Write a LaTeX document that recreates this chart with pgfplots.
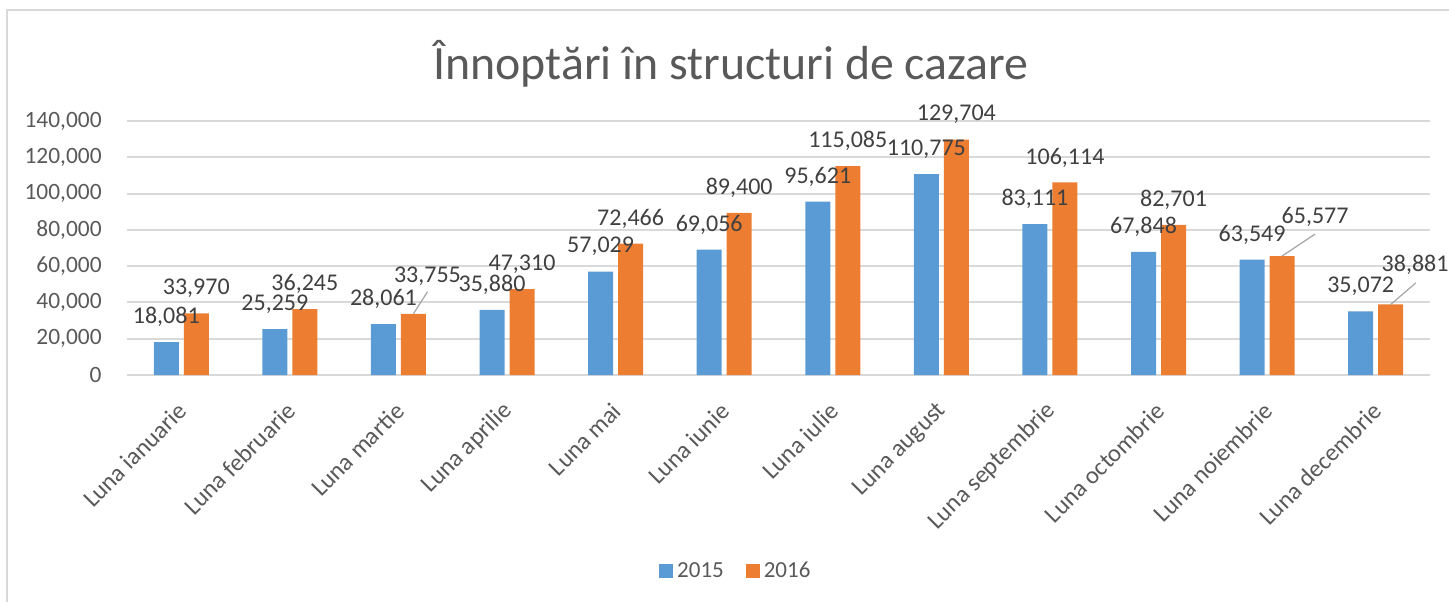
\documentclass[border=0pt]{standalone}
\usepackage{fontspec}
\setmainfont{Carlito}
\usepackage{pgfplots}
\usepackage{pgfplotstable}
\pgfplotsset{compat=1.18}
\definecolor{cblue}{HTML}{5B9BD5}
\definecolor{corange}{HTML}{ED7D31}
\definecolor{tgray}{HTML}{595959}
\definecolor{lgray}{HTML}{404040}
\definecolor{gridc}{HTML}{D9D9D9}
\definecolor{leadc}{HTML}{A6A6A6}

% dx, dy: label offsets (pt) from the group centre / default height
\pgfplotstableread{
x y dx dy
0 18081 -7.5 0
1 25259 -7.5 0
2 28061 -7.5 0
3 35880 -7.5 0
4 57029 -7.5 0
5 69056 -7.5 0
6 95621 -7.5 0
7 110775 -7.5 0
8 83111 -7.5 0
9 67848 -7.5 0
10 63549 -7.5 0
11 35072 -7.5 0
}\dataA

\pgfplotstableread{
x y dx dy
0 33970 7.5 0
1 36245 7.5 0
2 33755 14.5 6.5
3 47310 7.5 0
4 72466 7.5 0
5 89400 7.5 0
6 115085 7.5 0
7 129704 7.5 0
8 106114 7.5 0
9 82701 7.5 0
10 65577 24 7
11 38881 19.7 7.25
}\dataB

\pgfkeys{/pgf/number format/.cd, fixed, precision=0, 1000 sep={,}, assume math mode=true}

\begin{document}
\begin{tikzpicture}
\path[use as bounding box] (0,0) rectangle (724.5pt,300.5pt);
\begin{scope}
\clip (0,0) rectangle (724.5pt,300.5pt);
\draw[gridc, line width=1pt] (3.5pt,-5pt) -- (3.5pt,295.5pt) -- (735pt,295.5pt);
\end{scope}
\node[font=\fontsize{23.9pt}{28pt}\selectfont, text=tgray, anchor=base, inner sep=0pt] at (365.5pt,260.5pt) {Înnoptări în structuri de cazare};
\begin{axis}[
  at={(63.5pt,113pt)}, anchor=south west,
  scale only axis, width=651.5pt, height=127pt,
  xmin=-0.5, xmax=11.5, ymin=0, ymax=140000,
  clip=false,
  axis line style={draw=none},
  major tick length=0pt,
  ymajorgrids, major grid style={gridc, line width=1pt},
  ytick={0,20000,40000,60000,80000,100000,120000,140000},
  scaled y ticks=false,
  yticklabel style={font=\fontsize{11.7pt}{14pt}\selectfont, text=tgray, anchor=east, inner sep=0pt, xshift=-12.5pt},
  xtick={0,1,2,3,4,5,6,7,8,9,10,11},
  xticklabels={Luna ianuarie, Luna februarie, Luna martie, Luna aprilie, Luna mai, Luna iunie, Luna iulie, Luna august, Luna septembrie, Luna octombrie, Luna noiembrie, Luna decembrie},
  xticklabel style={font=\fontsize{12.3pt}{14pt}\selectfont, text=tgray, inner sep=0pt, xshift=0.8pt, yshift=-16pt, rotate=45, anchor=east},
  legend style={at={(axis description cs:0.468,-0.772)}, anchor=center, draw=none, fill=none, legend columns=2, font=\fontsize{11.5pt}{13pt}\selectfont, text=tgray, /tikz/every even column/.append style={column sep=9pt}},
  point meta=y,
  nodes near coords,
  visualization depends on={\thisrow{dx} \as \mydx},
  visualization depends on={\thisrow{dy} \as \mydy},
  nodes near coords style={font=\fontsize{12pt}{14pt}\selectfont, text=lgray, anchor=center, inner sep=0pt, xshift=\mydx pt, yshift=12.5pt+\mydy pt},
]
\addplot[ybar, bar width=12.5pt, bar shift=-7.5pt, fill=cblue, draw=none,
  legend image code/.code={\fill[cblue] (0pt,-3.5pt) rectangle (7pt,3.5pt);}]
  table[x=x,y=y]{\dataA};
\addlegendentry{2015}
\addplot[ybar, bar width=12.5pt, bar shift=7.5pt, fill=corange, draw=none,
  legend image code/.code={\fill[corange] (0pt,-3.5pt) rectangle (7pt,3.5pt);}]
  table[x=x,y=y]{\dataB};
\addlegendentry{2016}
\draw[leadc, line width=0.6pt] ([xshift=7.5pt]axis cs:2,33755) -- ++(7pt,11pt);
\draw[leadc, line width=0.6pt] ([xshift=7.5pt]axis cs:10,65577) -- ++(16.5pt,11pt);
\draw[leadc, line width=0.6pt] ([xshift=7.5pt]axis cs:11,38881) -- ++(12.5pt,10.75pt);
\end{axis}
\end{tikzpicture}
\end{document}
